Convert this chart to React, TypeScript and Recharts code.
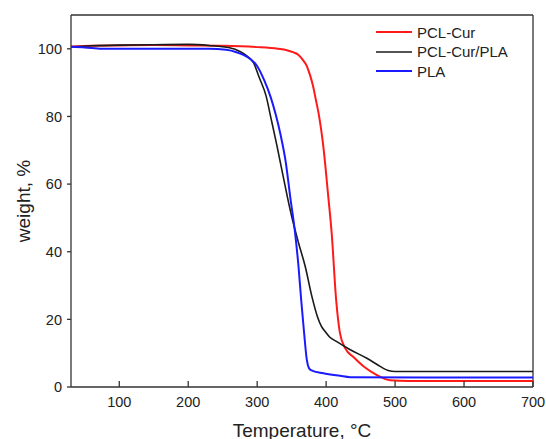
import * as React from "react";
import { Label, Line, LineChart, ReferenceLine, XAxis, YAxis } from "recharts";

// TGA curves: weight loss vs temperature for three samples.

const X_TICKS = [100, 200, 300, 400, 500, 600, 700];
const Y_TICKS = [0, 20, 40, 60, 80, 100];

const pclCurTemp = [30, 60, 100, 150, 200, 250, 300, 330, 343, 352, 360, 367, 372, 377, 381, 385, 389, 396, 403, 408, 414.5, 420, 427.5, 440, 455, 473, 485, 493, 520, 700];
const pclCurWeight = [100.7, 100.9, 101.0, 101.1, 101.0, 100.9, 100.5, 100.0, 99.6, 99.0, 98.2, 96.5, 94.9, 92.0, 89, 85, 81, 71, 56.5, 45.6, 25.8, 16, 11.5, 8.8, 6.0, 3.6, 2.4, 2.0, 1.8, 1.8];

const blendTemp = [30, 60, 100, 150, 200, 230, 260, 275, 285, 294.6, 303, 313, 320, 328.5, 336, 344, 350, 360, 369.6, 379.3, 387.4, 393, 398.6, 405, 415.5, 435, 459, 475, 483, 490, 500, 700];
const blendWeight = [100.6, 100.9, 101.1, 101.2, 101.3, 101.0, 100.3, 99.2, 97.9, 95.9, 91.5, 86, 79.5, 71.5, 64, 56, 50.5, 42.6, 35.7, 26.8, 20.8, 18, 16.4, 14.8, 13.4, 11.0, 8.5, 6.5, 5.5, 4.9, 4.6, 4.6];

const plaTemp = [30, 50, 75, 150, 230, 255, 270, 280, 290, 299.6, 310, 319.9, 327, 334, 341.6, 347.8, 355, 359.9, 363.8, 368.1, 372, 375, 378, 396, 420, 435, 700];
const plaWeight = [100.6, 100.4, 100.0, 100.0, 100.0, 99.7, 99.0, 98.2, 97.0, 95.0, 90.8, 85.5, 80.5, 74.5, 66.3, 56.4, 45.5, 35.7, 25.8, 15.9, 8.0, 5.6, 5.0, 4.05, 3.3, 2.9, 2.8];

const toRows = (t: number[], w: number[]) => t.map((x, i) => ({ temp: x, weight: w[i] }));

const SERIES = [
  { name: "PCL-Cur", color: "#ff1a1a", width: 2, legendWidth: 2, data: toRows(pclCurTemp, pclCurWeight) },
  { name: "PCL-Cur/PLA", color: "#1a1a1a", width: 1.6, legendWidth: 1.3, data: toRows(blendTemp, blendWeight) },
  { name: "PLA", color: "#1a1aff", width: 2, legendWidth: 2, data: toRows(plaTemp, plaWeight) },
];

const FONT = "'Liberation Sans', Arial, sans-serif";
const AXIS = "#333";

function LegendBox() {
  return (
    <div style={{ position: "absolute", left: 376, top: 22.6, fontFamily: FONT, fontSize: 15, color: "#222" }}>
      {SERIES.map((s) => (
        <div key={s.name} style={{ display: "flex", alignItems: "center", height: 19.4 }}>
          <svg width={36} height={6} style={{ marginRight: 5 }}>
            <line x1={0} y1={3} x2={36} y2={3} stroke={s.color} strokeWidth={s.legendWidth} />
          </svg>
          <span>{s.name}</span>
        </div>
      ))}
    </div>
  );
}

export default function App() {
  return (
    <div style={{ position: "absolute", left: 0, top: 0, width: 546, height: 439, background: "#fff" }}>
      <LineChart width={546} height={439} margin={{ top: 15, right: 13, left: 11, bottom: 0 }}>
        <XAxis
          dataKey="temp"
          type="number"
          domain={[30, 700]}
          ticks={X_TICKS}
          allowDataOverflow
          height={52}
          stroke={AXIS}
          strokeWidth={1.3}
          tickSize={-6}
          tickMargin={16}
          tick={{ fill: "#222", fontSize: 14.5, fontFamily: FONT }}
        >
          <Label
            value="Temperature, °C"
            position="insideBottom"
            offset={2}
            style={{ fill: "#222", fontSize: 19, fontFamily: FONT }}
          />
        </XAxis>
        <YAxis
          type="number"
          domain={[0, 110]}
          ticks={Y_TICKS}
          allowDataOverflow
          width={60}
          stroke={AXIS}
          strokeWidth={1.3}
          tickSize={4}
          tickMargin={5}
          tick={{ fill: "#222", fontSize: 14.5, fontFamily: FONT }}
        >
          <Label
            value="weight, %"
            angle={-90}
            position="insideLeft"
            offset={12}
            style={{ fill: "#222", fontSize: 19, fontFamily: FONT, textAnchor: "middle" }}
          />
        </YAxis>
        {/* frame: top and right edges of the plot box */}
        <ReferenceLine y={110} stroke={AXIS} strokeWidth={1.3} />
        <ReferenceLine x={700} stroke={AXIS} strokeWidth={1.3} />
        {SERIES.map((s) => (
          <Line
            key={s.name}
            data={s.data}
            dataKey="weight"
            name={s.name}
            type="monotone"
            stroke={s.color}
            strokeWidth={s.width}
            dot={false}
            isAnimationActive={false}
          />
        ))}
      </LineChart>
      <LegendBox />
    </div>
  );
}
